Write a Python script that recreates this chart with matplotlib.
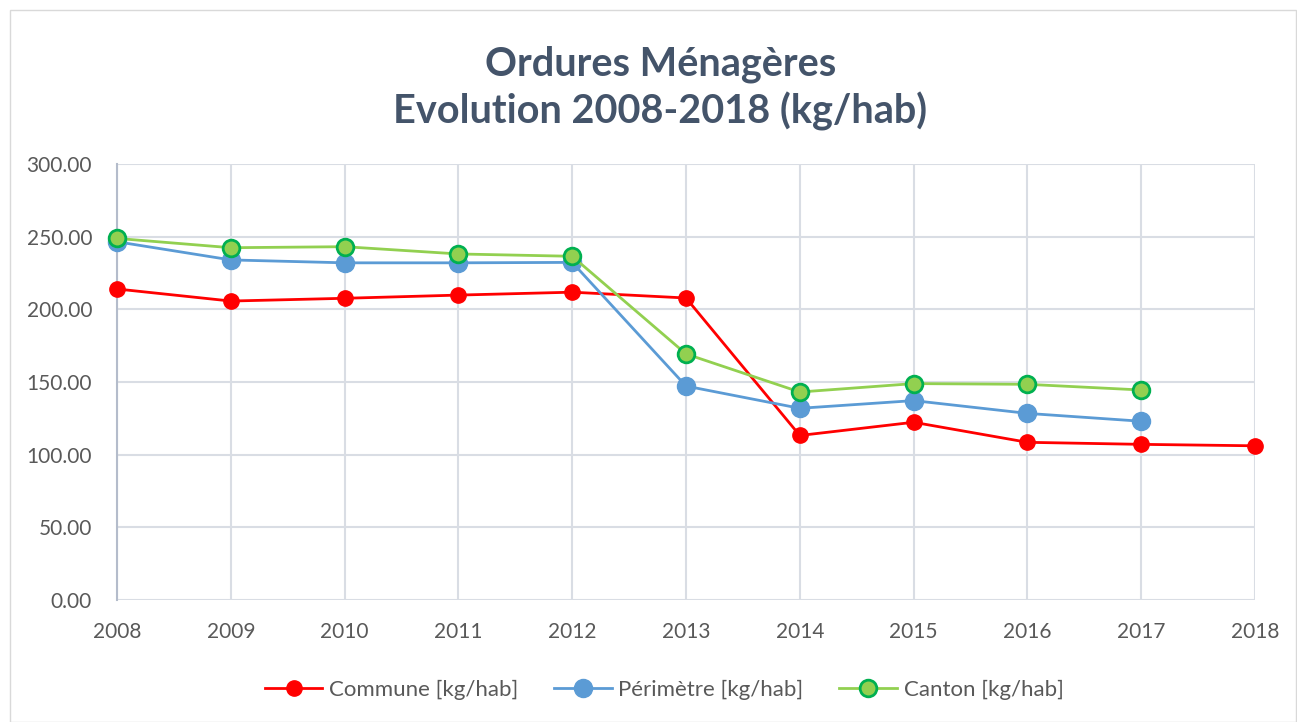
import matplotlib
matplotlib.use("Agg")
import matplotlib.pyplot as plt
from matplotlib.patches import Rectangle

years = [2008, 2009, 2010, 2011, 2012, 2013, 2014, 2015, 2016, 2017, 2018]
commune = [214.0, 205.7, 207.6, 209.8, 211.8, 207.8, 113.2, 122.3, 108.5, 107.1, 106.1]
perimetre_years = years[:10]
perimetre = [246.5, 234.0, 232.0, 232.0, 232.3, 147.2, 131.9, 137.2, 128.4, 123.0]
canton_years = years[:10]
canton = [248.8, 242.4, 243.1, 238.1, 236.5, 169.3, 143.1, 148.9, 148.4, 144.5]

title = "Ordures Ménagères\nEvolution 2008-2018 (kg/hab)"
labels = ["Commune [kg/hab]", "Périmètre [kg/hab]", "Canton [kg/hab]"]
yticks = [0, 50, 100, 150, 200, 250, 300]

plt.rcParams['font.family'] = ['Lato', 'DejaVu Sans']
text_col = '#595959'
grid_col = '#D9DDE4'

fig = plt.figure(figsize=(12.97, 7.22), dpi=100)
fig.patches.append(Rectangle((10/1297, 0), 1 - 10/1297 - 0.001, 1 - 10/722, transform=fig.transFigure,
                             fill=False, edgecolor='#D9D9D9', linewidth=1))
ax = fig.add_axes([117/1297, 1 - 600/722, (1255 - 117)/1297, (600 - 164)/722])

ax.plot(years, commune, color='#FF0000', lw=2, marker='o', ms=11,
        mfc='#FF0000', mec='#FF0000', label=labels[0], zorder=3, clip_on=False)
ax.plot(perimetre_years, perimetre, color='#5B9BD5', lw=2, marker='o', ms=13,
        mfc='#5B9BD5', mec='#5B9BD5', label=labels[1], zorder=4, clip_on=False)
ax.plot(canton_years, canton, color='#92D050', lw=2, marker='o', ms=12,
        mfc='#92D050', mec='#00B050', mew=2, label=labels[2], zorder=5, clip_on=False)

ax.set_xlim(2008, 2018)
ax.set_ylim(0, 300)
ax.set_xticks(years)
ax.set_xticklabels([str(y) for y in years])
ax.set_yticks(yticks)
ax.set_yticklabels([f"{v:.2f}" for v in yticks])
ax.grid(True, color=grid_col, lw=1.5)
ax.set_axisbelow(True)
ax.tick_params(length=0, labelsize=15, colors=text_col)
ax.tick_params(axis='y', pad=18)
ax.tick_params(axis='x', pad=16)
for s in ['top', 'right', 'bottom']:
    ax.spines[s].set_visible(False)
ax.spines['left'].set_color('#B4BCCB')
ax.spines['left'].set_linewidth(1.5)

fig.text(0.509, 0.878, title, ha='center', va='center', fontsize=28.5, fontweight='bold',
         color='#44546A', linespacing=1.3)

fig.legend(loc='center', bbox_to_anchor=(0.512, 0.045), ncol=3, frameon=False,
           fontsize=16, labelcolor=text_col, handlelength=2.6, columnspacing=1.6,
           handletextpad=0.3)

fig.savefig('out.png', dpi=100)
